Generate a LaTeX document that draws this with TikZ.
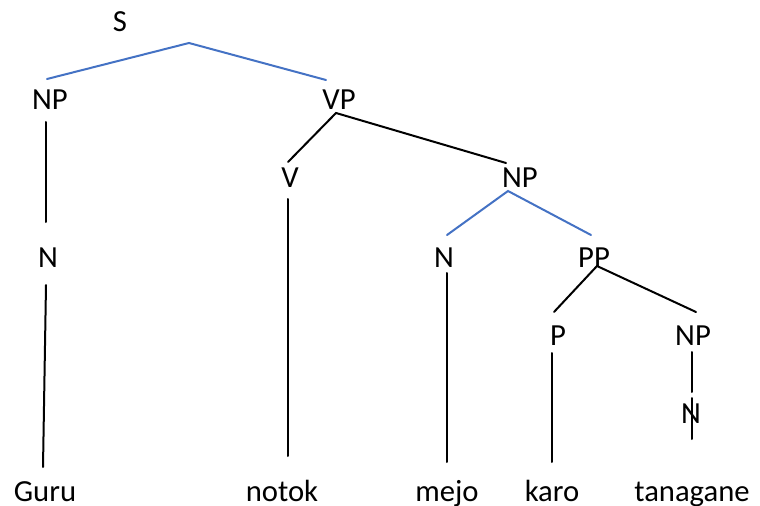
\documentclass[tikz,border=0pt]{standalone}
\usepackage{fontspec}
\setmainfont{Carlito}
\usetikzlibrary{positioning}
\definecolor{wordblue}{RGB}{68,114,196}

\begin{document}
\begin{tikzpicture}[x=0.75pt, y=-0.75pt,
    every node/.style={anchor=base, inner sep=0pt, font=\fontsize{23}{28}\selectfont},
    branch/.style={line width=1.5pt, line cap=round},
    bluebranch/.style={branch, draw=wordblue}]
            \useasboundingbox (0,0) rectangle (760,506);

            % Labels
            \node (s) at (120,32) {S};
            \node (np1) at (50,110) {NP};
            \node (vp) at (339,110) {VP};
            \node (v) at (290,188) {V};
            \node (np2) at (520,188) {NP};
            \node (n1) at (48,267) {N};
            \node (n2) at (444,267) {N};
            \node (pp) at (594,267) {PP};
            \node (p) at (558,345) {P};
            \node (np3) at (693,345) {NP};
            \node (n3) at (691,423) {N};
            \node (guru) at (45,501) {Guru};
            \node (notok) at (282,501) {notok};
            \node (mejo) at (447,501) {mejo};
            \node (karo) at (552,501) {karo};
            \node (tanagane) at (692,501) {tanagane};

            % Branch ends
            \coordinate (s-top) at (189,43);
            \coordinate (s-l) at (47,79);
            \coordinate (s-r) at (326,80);
            \coordinate (np1-bot) at (46,122);
            \coordinate (n1-top) at (46,222);
            \coordinate (n1-bot) at (46,285);
            \coordinate (guru-top) at (43,467);
            \coordinate (vp-bot) at (336,113);
            \coordinate (v-top) at (288,162);
            \coordinate (np2-top) at (506,163);
            \coordinate (v-bot) at (288,199);
            \coordinate (notok-top) at (288,456);
            \coordinate (np2-bot) at (508,191);
            \coordinate (n2-top) at (447,235);
            \coordinate (pp-top) at (591,235);
            \coordinate (n2-bot) at (447,273);
            \coordinate (mejo-top) at (447,462);
            \coordinate (pp-bot) at (597,266);
            \coordinate (p-top) at (554,312);
            \coordinate (np3-top) at (696,312);
            \coordinate (p-bot) at (552,353);
            \coordinate (karo-top) at (552,462);
            \coordinate (np3-bot) at (692,352);
            \coordinate (n3-top) at (692,392);
            \coordinate (n3-mid) at (692,398);
            \coordinate (n3-bot) at (692,439);

            % Branches
            \draw[bluebranch] (s-l) -- (s-top) -- (s-r);
            \draw[branch] (np1-bot) -- (n1-top);
            \draw[branch] (n1-bot) -- (guru-top);
            \draw[branch] (v-top) -- (vp-bot) -- (np2-top);
            \draw[branch] (v-bot) -- (notok-top);
            \draw[bluebranch] (n2-top) -- (np2-bot) -- (pp-top);
            \draw[branch] (n2-bot) -- (mejo-top);
            \draw[branch] (p-top) -- (pp-bot) -- (np3-top);
            \draw[branch] (p-bot) -- (karo-top);
            \draw[branch] (np3-bot) -- (n3-top);
            \draw[branch] (n3-mid) -- (n3-bot);
          \end{tikzpicture}
\end{document}
